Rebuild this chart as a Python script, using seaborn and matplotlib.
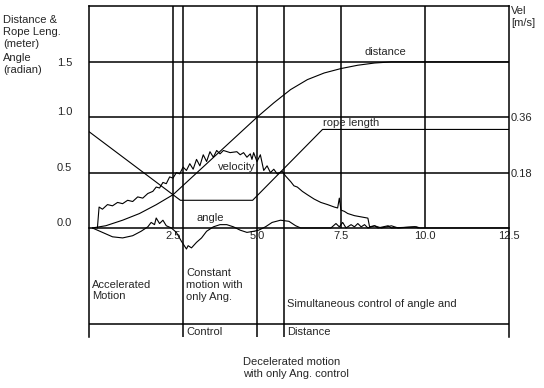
import numpy as np
import pandas as pd
import seaborn as sns
import matplotlib.pyplot as plt

# time [s] and distance [m]
dist_t = [0.1, 0.5, 1.0, 1.5, 2.0, 2.5, 3.0, 3.5, 4.0, 4.5, 5.0, 5.5, 6.0,
          6.5, 7.0, 7.5, 8.0, 8.5, 9.0, 10.0, 11.0, 12.5]
dist_m = [0.0, 0.02, 0.07, 0.13, 0.21, 0.30, 0.44, 0.58, 0.72, 0.86, 1.0,
          1.13, 1.25, 1.34, 1.40, 1.44, 1.47, 1.49, 1.5, 1.5, 1.5, 1.5]

# rope length [m]
rope_t = [0.0, 2.72, 4.87, 6.95, 12.5]
rope_m = [0.87, 0.25, 0.25, 0.89, 0.89]

# velocity [m/s]
vel_t = [0.25, 0.30, 0.40, 0.55, 0.70, 0.85, 1.00, 1.15, 1.30, 1.45, 1.60,
         1.75, 1.90, 2.00, 2.10, 2.20, 2.30, 2.40, 2.50, 2.60, 2.70, 2.80,
         2.90, 3.00, 3.10, 3.20, 3.30, 3.40, 3.50, 3.60, 3.70, 3.80, 3.90,
         4.00, 4.20, 4.40, 4.50, 4.60, 4.70, 4.80, 4.85, 4.90, 5.00, 5.10,
         5.20, 5.30, 5.40, 5.50, 5.60, 5.75, 5.85, 6.00, 6.10, 6.20, 6.35,
         6.50, 6.70, 6.90, 7.10, 7.30, 7.40, 7.45, 7.50, 7.60, 7.70, 7.90,
         8.10, 8.30, 8.35, 8.50, 8.70, 9.00, 9.20, 9.70, 9.80]
vel_ms = [0.000, 0.068, 0.061, 0.076, 0.072, 0.083, 0.079, 0.090, 0.086,
          0.101, 0.097, 0.112, 0.119, 0.133, 0.130, 0.148, 0.144, 0.166,
          0.162, 0.180, 0.176, 0.198, 0.187, 0.209, 0.191, 0.223, 0.202,
          0.238, 0.216, 0.248, 0.230, 0.252, 0.241, 0.252, 0.245, 0.248,
          0.238, 0.245, 0.230, 0.241, 0.223, 0.245, 0.216, 0.238, 0.187,
          0.202, 0.180, 0.191, 0.176, 0.184, 0.169, 0.151, 0.137, 0.133,
          0.119, 0.108, 0.094, 0.083, 0.076, 0.068, 0.065, 0.097, 0.058,
          0.054, 0.047, 0.040, 0.036, 0.032, 0.004, 0.007, 0.000, 0.007,
          0.000, 0.004, 0.000]

# rope angle [rad]
ang_t = [0.10, 0.40, 0.70, 1.00, 1.30, 1.55, 1.75, 1.85, 1.95, 2.00, 2.10,
         2.20, 2.30, 2.45, 2.60, 2.75, 2.90, 2.95, 3.05, 3.20, 3.35, 3.50,
         3.70, 3.90, 4.10, 4.30, 4.50, 4.70, 4.90, 5.05, 5.25, 5.45, 5.70,
         5.95, 6.15, 6.30, 7.20, 7.35, 7.45, 7.55, 7.65, 7.80, 7.90, 8.00,
         8.10, 8.20, 8.30, 8.50, 8.60, 8.90, 9.00, 9.75, 9.85, 12.5]
ang_rad = [0.00, -0.04, -0.08, -0.09, -0.07, -0.03, 0.01, 0.05, 0.03, 0.09,
           0.04, 0.07, 0.02, 0.00, -0.04, -0.12, -0.19, -0.16, -0.18, -0.13,
           -0.09, -0.03, 0.01, 0.03, 0.03, 0.01, -0.02, -0.04, -0.03, -0.02,
           0.01, 0.05, 0.07, 0.06, 0.02, 0.00, 0.00, 0.04, 0.01, 0.05, 0.00,
           0.03, 0.01, 0.04, 0.01, 0.03, 0.00, 0.02, 0.00, 0.02, 0.00, 0.01,
           0.00, 0.00]

x_ticks = [2.5, 5.0, 7.5, 10.0, 12.5]
x_labels = ["2.5", "5.0", "7.5", "10.0", "12.5"]
left_ticks = [0.0, 0.5, 1.0, 1.5]
left_labels = ["0.0", "0.5", "1.0", "1.5"]
vel_ticks = [0.18, 0.36]
vel_labels = ["0.18", "0.36"]
phase_bounds = [2.8, 5.0, 5.8]
vel_scale = 0.36  # 0.36 m/s on the right = 1.0 on the left
left_title = ["Distance &", "Rope Leng.", "(meter)", "Angle", "(radian)"]

sns.set_theme(style="white")
plt.rcParams['font.family'] = ['Liberation Sans', 'DejaVu Sans']
plt.rcParams['font.size'] = 8

fig = plt.figure(figsize=(5.44, 3.88), dpi=100)
ax = fig.add_axes([89 / 544, 1 - 337 / 388, 420 / 544, 331 / 388])
ylo, yhi = -0.985, 2.005
ax.set_xlim(0, 12.5)
ax.set_ylim(ylo, yhi)

lw_grid = 1.1
lw_data = 0.8

# frame and grid
for side in ['left', 'right', 'top', 'bottom']:
    ax.spines[side].set_color('black')
    ax.spines[side].set_linewidth(lw_grid)
ax.spines['bottom'].set_position(('data', 0))
for yv in left_ticks[1:]:
    ax.axhline(yv, color='black', lw=lw_grid)
ax.vlines([2.5, 7.5, 10.0], 0, yhi, color='black', lw=lw_grid)
ax.vlines(phase_bounds, ylo, yhi, color='black', lw=lw_grid)
ax.hlines(-0.867, 0, 12.5, color='black', lw=lw_grid)

# curves
df_dist = pd.DataFrame({'t': dist_t, 'v': dist_m})
df_rope = pd.DataFrame({'t': rope_t, 'v': rope_m})
df_ang = pd.DataFrame({'t': ang_t, 'v': ang_rad})
sns.lineplot(data=df_dist, x='t', y='v', ax=ax, color='black', lw=lw_data)
sns.lineplot(data=df_rope, x='t', y='v', ax=ax, color='black', lw=lw_data)
sns.lineplot(data=df_ang, x='t', y='v', ax=ax, color='black', lw=lw_data)

ax.set_xticks(x_ticks, x_labels)
ax.set_yticks(left_ticks, left_labels)
ax.tick_params(axis='x', length=0, pad=2, labelsize=8)
ax.tick_params(axis='y', length=0, pad=12, labelsize=8)
for lab in ax.get_yticklabels()[:-1]:
    lab.set_va('bottom')
ax.set_xlabel('')
ax.set_ylabel('')

# velocity on its own scale
ax2 = ax.twinx()
ax2.set_ylim(ylo * vel_scale, yhi * vel_scale)
df_vel = pd.DataFrame({'t': vel_t, 'v': vel_ms})
sns.lineplot(data=df_vel, x='t', y='v', ax=ax2, color='black', lw=lw_data)
ax2.set_yticks(vel_ticks, vel_labels)
ax2.tick_params(axis='y', length=0, pad=1, labelsize=8)
for side in ax2.spines:
    ax2.spines[side].set_visible(False)
ax2.set_ylabel('')
ax2.set_xlim(0, 12.5)

# curve labels
ax.text(8.81, 1.59, 'distance', ha='center', va='center')
ax.text(6.96, 0.95, 'rope length', ha='left', va='center')
ax.text(4.4, 0.55, 'velocity', ha='center', va='center')
ax.text(3.6, 0.09, 'angle', ha='center', va='center')

# phase table under the plot
ax.text(0.09, -0.565, 'Accelerated\nMotion', ha='left', va='center')
ax.text(2.89, -0.515, 'Constant\nmotion with\nonly Ang.', ha='left', va='center')
ax.text(5.89, -0.687, 'Simultaneous control of angle and', ha='left', va='center')
ax.text(2.89, -0.94, 'Control', ha='left', va='center')
ax.text(5.89, -0.94, 'Distance', ha='left', va='center')
ax.text(4.58, -1.265, 'Decelerated motion\nwith only Ang. control',
        ha='left', va='center')

# axis titles
for line, ypx in zip(left_title, [20, 32, 44, 58, 70]):
    fig.text(3 / 544, 1 - ypx / 388, line, ha='left', va='center', fontsize=8)
fig.text(511 / 544, 1 - 6 / 388, 'Vel\n[m/s]', ha='left', va='top', fontsize=8)

fig.savefig('out.png', dpi=100)
